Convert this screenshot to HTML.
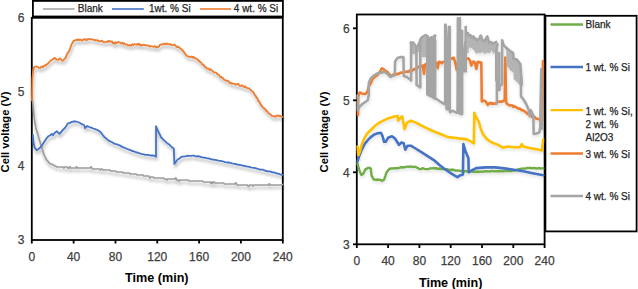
<!DOCTYPE html>
<html><head><meta charset="utf-8"><style>
html,body{margin:0;padding:0;background:#fff;width:638px;height:289px;overflow:hidden}
.w{position:relative;width:638px;height:289px;font-family:"Liberation Sans",sans-serif;color:#404040}
.w svg{position:absolute;left:0;top:0}
.t{position:absolute;white-space:nowrap;line-height:1}
.tk{font-size:12px;-webkit-text-stroke:0.25px #404040}
.lg{font-size:10px;color:#262626;-webkit-text-stroke:0.25px #262626}
.ttl{font-size:12.6px;font-weight:bold;color:#000}
.yt{font-size:11.2px;font-weight:bold;color:#000}
</style></head><body><div class="w">
<svg width="638" height="289" viewBox="0 0 638 289">
<defs><filter id="sh" x="-10%" y="-10%" width="120%" height="130%"><feDropShadow dx="0.8" dy="3" stdDeviation="1.8" flood-color="#000" flood-opacity="0.3"/></filter><filter id="sh2" x="-10%" y="-10%" width="120%" height="130%"><feDropShadow dx="0.5" dy="2" stdDeviation="1.5" flood-color="#000" flood-opacity="0.12"/></filter></defs>
<rect width="638" height="289" fill="#fff"/>
<rect x="31.8" y="17.8" width="251" height="222.2" fill="none" stroke="#000" stroke-width="1.8"/>
<rect x="356.8" y="14.5" width="187.8" height="229.8" fill="none" stroke="#000" stroke-width="1.8"/>
<g filter="url(#sh)">
<polyline points="32.5,100.0 33.5,110.0 34.5,120.0 35.9,128.0 36.9,131.3 37.9,134.6 38.8,137.9 39.8,141.2 40.8,144.4 41.8,147.7 42.8,151.0 43.8,154.3 44.7,156.1 45.5,157.8 46.4,159.6 47.2,160.5 48.0,161.4 48.9,162.4 49.7,163.3 50.5,164.0 51.4,164.0 52.2,164.0 53.0,165.0 53.9,165.0 54.8,166.0 55.8,166.0 56.7,167.0 57.6,167.0 58.5,167.0 59.4,167.0 60.3,167.0 61.2,167.0 62.0,167.0 62.9,167.0 63.8,168.0 64.7,167.0 65.5,167.0 66.4,167.0 67.2,167.0 68.1,168.3 69.0,168.0 69.8,166.8 70.7,168.0 71.5,168.0 72.4,168.0 73.2,168.0 74.1,168.0 74.9,168.0 75.8,168.0 76.6,166.8 77.5,168.0 78.3,168.0 79.2,168.0 80.0,168.0 80.8,168.0 81.7,168.0 82.5,168.0 83.4,168.0 84.2,168.0 85.1,168.0 85.9,168.0 86.8,168.0 87.6,168.0 88.5,168.0 89.3,168.0 90.2,168.0 91.0,166.8 91.9,168.0 92.8,169.0 93.6,169.0 94.4,169.0 95.3,169.0 96.2,169.0 97.0,169.0 97.9,169.0 98.7,169.0 99.6,169.0 100.4,170.0 101.3,169.0 102.2,169.0 103.0,170.0 103.9,170.0 104.7,170.0 105.6,170.0 106.4,170.0 107.3,170.0 108.1,170.0 109.0,170.0 109.8,170.0 110.7,171.0 111.5,171.0 112.4,171.0 113.2,171.0 114.1,171.0 114.9,171.0 115.8,171.0 116.6,172.0 117.5,172.0 118.3,172.0 119.2,172.0 120.0,172.0 120.9,172.0 121.8,172.0 122.6,172.0 123.5,173.0 124.3,173.0 125.2,173.0 126.0,173.0 126.8,173.0 127.7,173.0 128.6,173.0 129.4,173.0 130.2,174.0 131.1,174.0 131.9,174.0 132.8,174.0 133.6,174.0 134.5,174.0 135.3,174.0 136.2,174.0 137.0,175.0 137.9,175.0 138.8,175.0 139.6,175.0 140.4,175.0 141.3,175.0 142.2,175.0 143.0,175.0 143.8,176.0 144.7,176.0 145.6,176.0 146.4,176.0 147.3,176.0 148.1,176.0 149.0,176.0 149.8,178.0 150.7,177.0 151.6,177.0 152.4,177.0 153.3,177.0 154.1,178.0 155.0,178.0 155.8,178.0 156.7,178.0 157.5,178.0 158.4,178.0 159.2,178.0 160.0,178.0 160.9,178.0 161.7,178.0 162.6,178.0 163.4,178.0 164.3,179.0 165.1,179.0 165.9,179.0 166.8,180.0 167.6,179.0 168.5,179.0 169.3,179.0 170.1,179.0 170.9,179.0 171.7,179.0 172.6,179.0 173.4,179.0 174.2,179.0 175.0,179.0 175.8,177.8 176.6,180.0 177.4,180.0 178.2,180.0 179.1,181.3 179.9,180.0 180.7,180.0 181.5,180.0 182.3,180.0 183.2,180.0 184.0,180.0 184.9,180.0 185.7,180.0 186.5,180.0 187.4,180.0 188.2,180.0 189.1,181.0 189.9,181.0 190.8,181.0 191.6,181.0 192.4,181.0 193.3,181.0 194.1,181.0 195.0,181.0 195.8,181.0 196.6,181.0 197.5,181.0 198.3,181.0 199.2,181.0 200.0,181.0 200.8,181.0 201.7,181.0 202.5,181.0 203.4,182.0 204.2,182.0 205.1,182.0 205.9,182.0 206.7,182.0 207.6,182.0 208.4,182.0 209.3,182.0 210.1,182.0 210.9,183.3 211.8,182.0 212.6,183.3 213.5,182.0 214.3,182.0 215.1,183.0 216.0,183.0 216.8,183.0 217.7,183.0 218.5,183.0 219.4,183.0 220.2,183.0 221.0,183.0 221.9,183.0 222.7,183.0 223.6,183.0 224.4,184.0 225.2,184.0 226.0,184.0 226.8,184.0 227.7,184.0 228.5,184.0 229.3,184.0 230.1,184.0 230.9,184.0 231.7,184.0 232.5,184.0 233.3,184.0 234.2,184.0 235.0,184.0 235.8,182.8 236.6,184.0 237.4,185.0 238.2,185.0 239.1,185.0 239.9,185.0 240.7,185.0 241.5,185.0 242.3,185.0 243.2,185.0 244.0,185.0 244.8,185.0 245.6,185.0 246.4,185.0 247.3,185.0 248.1,186.3 248.9,186.3 249.7,185.0 250.5,185.0 251.4,185.0 252.2,185.0 253.0,186.0 253.8,185.0 254.6,185.0 255.4,185.0 256.3,185.0 257.1,185.0 257.9,185.0 258.7,185.0 259.5,185.0 260.3,185.0 261.1,185.0 261.9,185.0 262.8,185.0 263.6,185.0 264.4,185.0 265.2,185.0 266.0,185.0 266.8,185.0 267.7,185.0 268.5,185.0 269.3,183.8 270.1,185.0 271.0,185.0 271.8,185.0 272.6,185.0 273.4,185.0 274.3,185.0 275.1,185.0 275.9,185.0 276.7,185.0 277.6,185.0 278.4,185.0 279.2,185.0 280.0,185.0 280.9,185.0 281.7,185.0 282.5,184.5" fill="none" stroke="#9C9C9C" stroke-width="1.7" stroke-linejoin="round" stroke-linecap="round" />
<polyline points="32.9,134.6 33.3,141.2 34.6,147.7 36.6,150.1 38.5,149.1 41.2,146.4 43.8,142.5 46.4,138.5 48.4,136.2 50.4,135.2 51.7,133.9 53.0,135.2 54.3,133.3 56.9,131.3 59.6,133.9 62.2,130.6 64.8,128.0 66.3,126.0 67.8,123.4 69.8,122.9 71.9,121.9 74.0,121.4 76.0,121.5 78.0,122.0 80.0,123.0 82.0,124.2 84.1,125.0 85.1,128.1 87.2,126.0 89.2,127.0 91.3,127.7 93.3,128.5 95.3,129.1 97.3,130.0 99.4,131.1 101.5,133.2 103.0,135.2 104.5,137.1 106.2,138.5 107.9,139.9 109.6,141.2 111.7,142.0 113.7,143.3 115.2,143.8 116.8,144.2 118.3,144.9 119.8,145.3 121.3,146.4 122.9,147.1 124.5,147.7 126.0,148.4 127.5,149.0 129.1,149.6 130.6,150.1 132.1,151.0 133.6,151.2 135.1,151.9 136.7,152.3 138.2,152.9 139.7,153.2 141.2,153.9 142.8,154.1 144.3,154.5 145.8,154.8 147.4,154.8 148.9,155.0 150.4,155.5 151.9,155.4 153.5,155.5 155.6,156.5 156.0,156.7 156.0,126.1 158.1,131.2 159.6,134.0 161.1,137.3 163.1,139.4 165.2,141.4 167.2,143.2 169.3,144.5 170.8,146.2 172.3,147.6 173.8,148.6 174.4,163.9 175.9,161.7 177.4,159.8 179.4,158.5 181.5,156.7 183.1,156.6 184.6,156.3 186.1,156.2 187.7,155.7 189.2,155.9 190.8,155.9 192.3,155.6 193.8,155.7 195.3,156.2 196.9,156.5 198.4,156.2 199.9,156.7 201.5,157.2 203.2,157.5 204.8,157.7 206.5,158.1 208.1,158.4 209.6,158.7 211.2,159.3 212.7,159.3 214.2,159.8 215.7,159.8 217.2,160.4 218.8,160.7 220.3,160.8 221.8,161.1 223.4,161.5 224.9,162.1 226.4,162.3 228.0,162.5 229.5,162.7 231.1,163.1 232.6,163.5 234.1,163.9 235.7,163.9 237.2,164.6 238.7,164.6 240.2,165.2 241.8,165.2 243.3,165.9 244.8,165.9 246.3,166.4 247.9,166.6 249.4,166.9 250.9,167.3 252.4,167.6 253.9,167.8 255.5,168.1 257.0,168.6 258.5,169.0 260.1,169.6 261.6,169.7 263.1,169.7 264.7,170.5 266.2,170.8 267.8,171.3 269.3,171.4 270.9,171.7 272.6,172.4 274.2,172.4 275.9,173.2 277.6,173.5 279.2,173.9 280.9,174.7 282.5,174.9" fill="none" stroke="#4472C4" stroke-width="1.8" stroke-linejoin="round" stroke-linecap="round" />
<polyline points="32.0,100.0 32.4,79.0 33.1,71.0 34.1,67.3 35.2,66.5 36.2,66.5 37.0,66.9 37.8,66.9 38.6,67.6 39.4,67.9 40.2,68.0 41.0,66.9 41.8,66.4 42.7,67.3 43.5,66.0 44.3,66.0 45.1,65.0 45.9,65.6 46.8,64.1 47.6,64.1 48.4,62.9 49.2,62.1 50.0,61.6 50.9,60.1 51.7,60.2 52.5,59.2 53.5,59.1 54.5,57.8 55.5,58.5 56.6,59.5 57.6,59.8 58.6,59.7 59.7,58.4 60.7,58.8 61.7,60.2 62.7,60.8 63.7,59.9 64.8,58.5 65.8,57.8 66.8,54.5 67.8,52.7 68.8,51.7 69.8,49.6 70.8,46.5 71.9,43.5 72.9,42.3 73.9,40.4 74.9,40.7 76.0,40.1 77.0,39.4 77.8,40.2 78.6,39.4 79.4,40.1 80.2,39.6 81.0,39.8 81.8,40.5 82.6,40.4 83.5,39.2 84.3,39.2 85.1,39.8 85.9,39.2 86.7,40.2 87.6,39.2 88.4,39.4 89.2,39.0 90.0,38.8 90.8,39.3 91.7,39.3 92.5,39.4 93.3,39.8 94.1,40.0 94.9,40.0 95.8,40.6 96.6,40.3 97.4,40.0 98.2,40.9 99.0,41.0 99.9,41.4 100.7,41.1 101.5,41.0 102.3,40.6 103.1,41.9 104.0,42.2 104.8,42.3 105.6,41.8 106.4,41.8 107.2,41.8 108.0,40.9 108.8,41.7 109.6,41.0 110.4,41.5 111.2,41.5 112.1,41.5 112.9,43.2 113.7,43.0 114.6,43.7 115.4,42.2 116.3,43.2 117.2,42.5 118.1,42.0 118.9,42.2 119.8,42.4 120.7,43.1 121.6,43.6 122.5,42.6 123.3,43.8 124.2,43.2 125.1,44.5 126.0,44.5 126.8,44.3 127.6,45.3 128.4,45.6 129.2,45.0 130.0,45.1 130.8,45.8 131.6,44.7 132.5,44.2 133.3,45.0 134.1,44.1 134.9,44.3 135.7,44.5 136.6,44.8 137.4,44.0 138.2,44.5 139.0,43.8 139.8,45.2 140.7,44.4 141.5,45.5 142.3,45.4 143.1,44.7 143.9,44.9 144.8,45.0 145.6,45.3 146.4,45.1 147.3,45.5 148.1,45.6 149.0,45.9 149.9,46.6 150.8,46.1 151.6,46.2 152.5,46.5 153.4,46.9 154.4,46.2 155.3,46.4 156.2,47.6 157.2,47.0 158.1,47.0 159.1,46.2 160.1,44.6 161.1,44.5 162.0,44.3 162.8,44.5 163.7,43.5 164.6,44.3 165.5,44.3 166.3,43.3 167.2,43.9 168.1,44.2 169.0,44.1 169.9,44.6 170.7,44.2 171.6,44.9 172.5,45.1 173.4,44.9 174.3,44.5 175.1,45.0 176.0,46.3 176.9,47.2 177.8,46.4 178.6,47.1 179.5,47.6 180.3,48.5 181.1,48.9 182.0,49.8 182.8,50.5 183.6,51.6 184.6,52.9 185.6,54.7 186.6,55.7 187.7,56.3 188.7,56.4 189.7,57.1 190.7,56.7 191.7,56.7 192.5,57.5 193.3,56.6 194.2,57.8 195.0,58.4 195.8,58.4 196.6,58.8 197.4,59.3 198.3,60.9 199.1,60.7 199.9,61.8 200.8,62.1 201.6,63.4 202.4,64.7 203.3,64.6 204.2,65.8 205.0,66.9 206.0,67.2 207.1,68.6 208.1,68.6 208.9,68.9 209.7,70.0 210.5,69.3 211.3,69.9 212.1,70.6 213.0,71.4 213.9,72.4 214.8,72.3 215.6,72.5 216.5,72.9 217.4,74.2 218.3,74.7 219.1,74.9 219.9,76.6 220.7,77.3 221.5,76.9 222.3,78.1 223.2,78.2 224.0,79.6 224.9,79.8 225.7,80.6 226.6,80.4 227.4,81.1 228.2,81.0 229.0,81.8 229.9,83.1 230.7,82.7 231.5,83.6 232.3,83.5 233.2,83.7 234.1,83.8 234.9,83.9 235.8,84.8 236.6,84.2 237.5,83.8 238.4,83.8 239.3,85.5 240.1,85.6 241.0,86.0 241.9,85.3 242.8,85.6 243.7,86.7 244.5,87.1 245.4,86.3 246.3,87.5 247.2,88.1 248.0,88.2 248.9,88.3 249.8,89.2 250.6,89.7 251.4,90.6 252.3,91.3 253.2,91.9 254.0,93.4 254.8,94.9 255.7,95.8 256.6,97.9 257.4,98.1 258.2,100.8 259.1,101.5 260.0,103.0 260.8,104.6 261.6,105.7 262.5,106.9 263.4,107.6 264.2,108.7 265.0,108.7 265.8,110.7 266.7,110.6 267.5,111.7 268.3,112.8 269.1,113.7 269.9,114.0 270.7,114.5 271.5,115.9 272.3,115.8 273.3,116.3 274.4,116.2 275.4,116.8 276.4,115.7 277.4,115.4 278.4,116.1 279.5,115.6 280.5,115.8 281.5,116.8 282.5,116.8" fill="none" stroke="#ED7D31" stroke-width="1.8" stroke-linejoin="round" stroke-linecap="round" />
</g>
<rect x="32.9" y="0.9" width="250" height="15.6" fill="#fff" stroke="#000" stroke-width="1.8"/>
<line x1="31.8" y1="240" x2="31.8" y2="243.5" stroke="#000" stroke-width="1.8"/>
<line x1="73.6" y1="240" x2="73.6" y2="243.5" stroke="#000" stroke-width="1.8"/>
<line x1="115.5" y1="240" x2="115.5" y2="243.5" stroke="#000" stroke-width="1.8"/>
<line x1="157.3" y1="240" x2="157.3" y2="243.5" stroke="#000" stroke-width="1.8"/>
<line x1="199.1" y1="240" x2="199.1" y2="243.5" stroke="#000" stroke-width="1.8"/>
<line x1="240.9" y1="240" x2="240.9" y2="243.5" stroke="#000" stroke-width="1.8"/>
<line x1="282.8" y1="240" x2="282.8" y2="243.5" stroke="#000" stroke-width="1.8"/>
<line x1="43" y1="9" x2="74.6" y2="9" stroke="#A5A5A5" stroke-width="1.6"/>
<line x1="112" y1="9" x2="143.8" y2="9" stroke="#4472C4" stroke-width="1.6"/>
<line x1="199.9" y1="9" x2="231" y2="9" stroke="#ED7D31" stroke-width="1.6"/>
<g filter="url(#sh2)">
<polyline points="357.5,163.5 359.0,169.4 360.2,172.4 361.4,174.9 363.0,174.1 364.1,172.0 365.3,169.4 366.4,168.9 367.4,168.2 368.5,167.8 369.6,167.9 370.8,168.6 371.6,175.7 372.8,177.8 373.9,179.6 375.0,179.6 376.1,179.8 377.2,179.5 378.3,179.8 379.4,179.6 380.6,180.0 381.8,180.8 383.0,180.4 384.1,179.6 385.3,176.2 386.5,172.5 387.5,171.1 388.6,169.9 389.6,168.6 390.7,168.7 391.7,168.3 392.8,168.4 393.8,168.5 394.8,168.1 395.9,168.2 397.0,168.3 398.1,168.0 399.2,168.0 400.4,167.5 401.5,167.1 402.6,167.5 403.7,167.1 404.8,167.2 406.0,166.9 407.1,166.6 408.2,166.6 409.3,166.8 410.5,166.5 411.6,166.6 412.8,167.0 414.0,166.9 415.1,166.8 416.3,167.1 417.3,167.9 418.4,168.3 419.4,169.1 420.4,169.1 421.5,168.8 422.5,168.2 423.6,168.5 424.6,168.9 425.7,169.1 426.8,169.1 427.9,169.1 429.0,169.0 430.2,168.3 431.3,168.4 432.4,168.4 433.5,168.2 434.5,168.2 435.6,168.5 436.6,168.2 437.7,168.9 438.7,168.7 439.8,168.5 440.8,169.0 441.9,168.9 442.9,169.1 443.9,169.0 444.9,169.2 446.0,169.1 447.0,169.2 448.0,169.5 449.0,169.9 450.1,169.9 451.1,169.5 452.2,170.1 453.2,169.7 454.3,170.0 455.3,170.6 456.4,170.5 457.4,170.5 458.6,170.6 459.8,170.8 460.9,171.0 462.1,171.3 463.2,171.0 464.2,171.6 465.2,171.0 466.3,171.2 467.3,171.5 468.4,171.3 469.5,171.3 470.6,171.7 471.7,171.2 472.8,171.8 473.9,171.7 474.9,171.6 476.0,171.8 477.1,171.5 478.2,171.8 479.3,171.6 480.3,171.8 481.4,171.6 482.4,171.5 483.5,171.7 484.5,171.4 485.6,171.2 486.6,171.6 487.7,171.3 488.7,171.4 489.8,171.6 490.8,171.2 491.9,171.0 492.9,171.1 494.0,171.4 495.0,171.3 496.0,171.2 497.1,171.1 498.1,171.2 499.2,171.5 500.2,171.0 501.3,171.1 502.3,171.4 503.4,171.2 504.4,171.0 505.5,171.1 506.5,171.1 507.6,170.8 508.6,171.0 509.7,170.9 510.7,171.0 511.8,171.0 512.8,170.4 513.9,170.5 514.9,170.5 516.0,170.2 517.0,169.7 518.0,169.4 519.1,169.3 520.1,168.9 521.1,168.8 522.2,168.6 523.2,168.4 524.2,168.6 525.3,168.6 526.3,168.2 527.4,167.9 528.4,168.2 529.5,167.9 530.5,167.8 531.6,168.3 532.6,168.1 533.6,167.9 534.6,168.3 535.6,168.1 536.6,168.5 537.6,168.5 538.6,168.0 539.6,168.1 540.6,168.6 541.6,168.4 542.6,168.3 543.6,168.4" fill="none" stroke="#70AD47" stroke-width="2.4" stroke-linejoin="round" stroke-linecap="round" />
<polyline points="357.5,161.3 359.0,156.6 361.4,150.4 364.5,144.1 367.7,140.2 370.8,137.1 373.9,134.7 377.1,133.4 381.0,132.8 382.6,136.3 384.1,141.8 385.7,141.8 388.0,137.8 392.0,136.3 395.1,138.6 397.5,142.5 399.0,144.9 401.4,142.5 403.7,143.3 405.3,149.6 407.6,145.7 410.8,145.7 414.7,148.0 421.0,151.9 427.2,155.9 433.5,159.8 439.8,165.3 446.0,170.0 452.7,174.4 457.4,177.2 460.5,175.2 462.9,174.4 463.4,144.1 465.2,150.4 468.4,158.2 468.7,172.3 471.5,170.5 476.2,168.1 485.6,167.4 495.0,167.4 504.4,168.4 513.8,169.7 523.2,171.3 532.6,173.2 543.6,175.2" fill="none" stroke="#4472C4" stroke-width="2.6" stroke-linejoin="round" stroke-linecap="round" />
<polyline points="357.6,146.5 358.3,155.1 359.8,151.9 361.4,145.7 363.8,139.4 366.9,133.9 370.8,130.0 375.5,125.3 380.2,122.1 384.9,119.8 389.6,117.9 394.3,116.6 397.5,115.9 398.2,120.6 399.8,118.2 402.2,116.3 404.5,129.0 406.9,122.9 410.8,120.6 414.7,122.1 419.4,124.5 424.1,126.8 430.4,130.0 436.6,132.5 442.9,135.0 448.0,137.1 454.3,137.8 460.5,138.6 466.8,139.4 471.5,141.8 473.9,143.3 474.3,112.7 475.4,115.9 478.6,121.3 480.9,129.2 483.3,134.7 487.2,139.4 491.9,142.5 498.2,144.9 502.9,147.7 507.6,146.5 513.8,147.2 520.1,147.2 521.7,144.1 523.2,146.5 529.5,148.0 535.8,149.1 542.0,150.4 543.3,139.4" fill="none" stroke="#FFC000" stroke-width="2.6" stroke-linejoin="round" stroke-linecap="round" />
<polyline points="358.0,115.1 358.3,96.3 359.8,92.4 360.9,93.1 361.9,93.4 363.0,93.7 364.0,93.8 365.1,94.0 366.2,93.4 367.7,90.8 368.8,86.5 370.0,84.5 371.1,82.5 372.3,79.6 373.5,77.8 374.6,77.2 375.8,76.1 376.9,75.6 378.1,74.0 379.2,72.7 380.5,71.1 381.8,68.4 383.1,68.7 384.4,70.1 385.6,70.9 386.7,71.5 387.9,72.7 389.0,73.9 390.2,75.1 391.3,76.1 392.5,74.9 393.6,74.6 394.8,74.4 396.0,73.8 397.1,74.4 398.3,73.5 399.4,73.6 400.6,72.5 401.7,72.7 402.9,72.8 404.0,71.6 405.2,71.8 406.3,72.0 407.5,71.3 408.6,71.8 410.0,70.4 411.3,70.4 412.3,70.7 413.2,69.5 414.2,69.7 415.2,68.6 416.3,69.0 417.3,68.1 418.4,66.9 419.5,66.3 420.5,66.8 421.6,65.9 422.7,65.5 424.1,74.0 424.8,64.8 425.9,64.3 427.0,63.3 427.9,62.7 428.9,63.5 429.8,62.9 430.7,63.0 431.7,62.7 432.6,61.9 433.8,61.9 435.0,62.2 436.2,62.6 437.6,68.3 439.0,61.9 439.9,61.9 440.9,62.3 441.8,63.3 442.9,62.0 444.0,61.9 445.0,61.1 446.0,61.0 447.0,59.7 448.1,60.1 449.1,59.2 450.1,58.6 451.1,58.4 452.0,58.6 453.0,57.9 453.9,57.7 454.9,61.7 456.0,66.2 456.7,70.0 458.0,62.0 459.1,61.6 460.2,61.5 461.3,60.3 462.4,60.5 463.4,60.6 464.4,58.8 465.4,59.3 466.4,58.4 467.4,58.9 468.5,58.4 469.9,60.5 471.3,65.5 472.8,61.9 473.9,61.6 474.9,62.6 476.3,69.0 477.7,61.9 478.6,62.5 479.5,62.1 480.4,62.5 481.3,62.6 481.8,101.5 483.4,100.8 484.3,100.6 485.3,101.1 486.2,102.2 487.7,105.0 488.8,103.5 489.8,102.9 490.9,103.7 491.9,102.8 492.9,103.8 494.0,103.6 495.0,103.7 495.9,103.3 496.9,102.2 497.9,101.8 499.0,101.6 500.1,101.7 501.1,101.5 502.3,101.7 503.5,100.5 504.7,100.8 505.3,57.5 506.1,101.8 506.8,103.6 507.9,104.4 509.0,105.0 510.0,105.5 511.1,105.5 512.1,105.2 513.2,106.9 514.2,106.1 515.3,107.0 516.4,107.2 517.5,108.0 518.5,108.8 519.6,108.6 520.6,108.9 521.6,110.2 522.6,110.2 523.6,110.7 524.5,111.3 525.5,112.1 526.5,112.7 527.4,114.0 528.3,113.8 529.2,114.3 530.1,115.5 531.0,115.6 532.0,116.8 533.1,116.1 534.2,116.5 535.2,117.6 536.4,118.8 537.6,118.7 538.8,119.2 539.7,119.5 540.6,119.7 541.6,120.7 542.5,121.0 543.0,61.0" fill="none" stroke="#ED7D31" stroke-width="2.6" stroke-linejoin="round" stroke-linecap="round" />
<polygon points="410.0,42.4 413.2,42.4 415.8,46.5 417.7,46.2 419.9,41.2 421.3,37.7 423.4,36.3 425.5,34.9 427.6,36.3 427.6,57.0 421.5,57.0 421.5,52.0 416.8,52.0 416.8,54.0 412.0,54.0 410.0,56.0" fill="#B4B4B4" stroke="none"/>
<polygon points="429.0,38.2 429.3,38.4 430.5,38.4 431.2,37.0 431.9,40.5 432.2,40.5 432.2,58.0 429.0,58.0" fill="#B4B4B4" stroke="none"/>
<polygon points="433.4,36.0 434.0,35.6 435.8,35.6 435.8,60.0 433.4,60.0" fill="#B4B4B4" stroke="none"/>
<polygon points="426.6,40.0 435.8,40.0 435.8,98.6 432.6,97.2 428.4,95.1 426.6,94.0" fill="#A5A5A5" stroke="#A5A5A5" stroke-width="1.2" stroke-linejoin="round"/>
<polygon points="444.5,24.2 446.3,24.2 446.8,41.0 447.8,41.0 448.2,26.3 450.4,26.3 450.4,112.8 449.6,112.8 448.9,110.0 446.1,110.0 445.4,104.3 444.5,104.0" fill="#A5A5A5" stroke="#A5A5A5" stroke-width="1.2" stroke-linejoin="round"/>
<polygon points="457.2,17.8 460.6,17.5 460.6,114.8 456.9,112.8" fill="#A5A5A5" stroke="#A5A5A5" stroke-width="1.2" stroke-linejoin="round"/>
<polygon points="461.6,29.9 462.8,30.6 462.8,114.5 461.6,114.8" fill="#A5A5A5" stroke="#A5A5A5" stroke-width="1.2" stroke-linejoin="round"/>
<polygon points="465.0,26.3 466.4,26.3 466.4,72.0 463.5,72.0 463.5,50.0 465.0,40.0" fill="#A5A5A5" stroke="#A5A5A5" stroke-width="1.2" stroke-linejoin="round"/>
<polygon points="466.4,33.4 467.9,33.0 469.0,35.5 470.6,35.3 471.5,37.5 473.4,36.3 474.3,38.8 475.1,38.3 477.3,40.2 479.0,39.0 480.6,35.5 481.5,37.0 482.3,40.2 484.5,41.2 486.0,38.5 487.3,36.3 488.2,39.5 489.0,42.5 491.0,42.0 492.8,43.6 494.5,42.8 496.2,41.8 497.3,44.5 498.2,44.5 498.2,80.4 496.2,80.4 495.5,50.0 494.0,54.5 491.5,50.5 489.5,53.5 487.0,52.5 485.0,54.0 482.5,52.0 480.0,53.5 478.0,52.5 476.0,54.0 474.5,51.0 472.8,49.0 470.6,47.6 468.8,48.0 468.5,53.0 466.8,53.0" fill="#B4B4B4" stroke="none"/>
<polygon points="506.3,47.8 508.0,49.2 510.2,51.0 513.1,52.9 513.6,58.8 516.9,59.5 518.8,62.0 520.3,64.0 521.6,80.0 521.6,85.0 519.5,85.0 517.0,82.0 513.6,79.0 513.6,73.0 510.0,70.0 506.3,65.0" fill="#B4B4B4" stroke="none"/>
<polyline points="466.4,33.4 467.9,33.0 469.0,35.5 470.6,35.3 471.5,37.5 473.4,36.3 474.3,38.8 475.1,38.3 477.3,40.2 479.0,39.0 480.6,35.5 481.5,37.0 482.3,40.2 484.5,41.2 486.0,38.5 487.3,36.3 488.2,39.5 489.0,42.5 491.0,42.0 492.8,43.6 494.5,42.8 496.2,41.8" fill="none" stroke="#A5A5A5" stroke-width="2.6" stroke-linejoin="round" stroke-linecap="round" />
<polyline points="506.3,47.8 508.0,49.2 510.2,51.0 513.1,52.9 513.6,58.8 516.9,59.5 518.8,62.0 520.3,64.0 521.6,80.0 521.6,85.0" fill="none" stroke="#A5A5A5" stroke-width="2.6" stroke-linejoin="round" stroke-linecap="round" />
<polyline points="496.2,80.4 496.2,50.0 497.6,44.0" fill="none" stroke="#A5A5A5" stroke-width="2.4" stroke-linejoin="round" stroke-linecap="round" />
<polyline points="410.6,42.4 413.2,42.4 415.8,46.5 417.7,46.2 419.9,41.2 421.3,37.7 423.4,36.3 425.5,34.9 427.6,36.3 428.4,39.8 429.1,38.4 430.5,38.4 431.2,37.0 431.9,40.5 434.0,35.6 435.5,35.6" fill="none" stroke="#A5A5A5" stroke-width="2.4" stroke-linejoin="round" stroke-linecap="round" />
<polyline points="411.1,43.0 411.1,80.4" fill="none" stroke="#A5A5A5" stroke-width="2.6" stroke-linejoin="round" stroke-linecap="round" />
<polyline points="416.4,47.0 416.6,85.0 418.5,86.2 420.3,87.5 420.3,40.0" fill="none" stroke="#A5A5A5" stroke-width="2.6" stroke-linejoin="round" stroke-linecap="round" />
<polyline points="427.6,36.5 427.6,94.5 430.7,96.0" fill="none" stroke="#A5A5A5" stroke-width="2.6" stroke-linejoin="round" stroke-linecap="round" />
<polyline points="430.7,38.5 430.7,96.0 434.6,98.3" fill="none" stroke="#A5A5A5" stroke-width="2.6" stroke-linejoin="round" stroke-linecap="round" />
<polyline points="434.6,36.0 434.6,98.3 437.0,99.3 441.1,102.2 444.5,104.0" fill="none" stroke="#A5A5A5" stroke-width="2.6" stroke-linejoin="round" stroke-linecap="round" />
<polyline points="450.4,112.0 452.5,110.7 456.9,112.8" fill="none" stroke="#A5A5A5" stroke-width="2.6" stroke-linejoin="round" stroke-linecap="round" />
<polyline points="496.9,80.0 496.9,103.6" fill="none" stroke="#A5A5A5" stroke-width="2.6" stroke-linejoin="round" stroke-linecap="round" />
<polyline points="499.2,53.0 499.2,90.0" fill="none" stroke="#A5A5A5" stroke-width="2.6" stroke-linejoin="round" stroke-linecap="round" />
<polyline points="502.1,40.5 502.1,84.0 500.0,86.0 499.2,90.0" fill="none" stroke="#A5A5A5" stroke-width="2.6" stroke-linejoin="round" stroke-linecap="round" />
<polyline points="502.1,40.5 503.6,45.2 506.4,48.1" fill="none" stroke="#A5A5A5" stroke-width="2.6" stroke-linejoin="round" stroke-linecap="round" />
<polyline points="520.9,80.0 521.0,96.4 523.6,99.5 526.4,104.5 528.6,109.8 529.8,116.4 530.7,110.0 533.3,115.5 533.7,134.0 536.4,133.4 539.3,132.4 540.2,127.0 541.1,80.0 541.4,69.0 542.2,128.8" fill="none" stroke="#A5A5A5" stroke-width="2.6" stroke-linejoin="round" stroke-linecap="round" />
<polyline points="357.6,95.5 357.8,110.4 359.0,107.2 361.4,104.9 364.5,102.5 367.7,100.2 368.8,95.0 368.8,83.1 370.6,78.7 374.0,75.3 377.5,73.5 381.0,72.7 384.4,71.8 387.0,73.5 390.5,77.0 392.2,76.1 394.8,75.3 395.1,61.4 397.4,58.0 400.8,57.1 403.4,57.1 403.8,76.1 406.9,77.0 410.4,79.8" fill="none" stroke="#A5A5A5" stroke-width="2.6" stroke-linejoin="round" stroke-linecap="round" />
</g>
<line x1="356.8" y1="244.3" x2="356.8" y2="248" stroke="#000" stroke-width="1.8"/>
<line x1="388.1" y1="244.3" x2="388.1" y2="248" stroke="#000" stroke-width="1.8"/>
<line x1="419.4" y1="244.3" x2="419.4" y2="248" stroke="#000" stroke-width="1.8"/>
<line x1="450.7" y1="244.3" x2="450.7" y2="248" stroke="#000" stroke-width="1.8"/>
<line x1="482.0" y1="244.3" x2="482.0" y2="248" stroke="#000" stroke-width="1.8"/>
<line x1="513.3" y1="244.3" x2="513.3" y2="248" stroke="#000" stroke-width="1.8"/>
<line x1="544.6" y1="244.3" x2="544.6" y2="248" stroke="#000" stroke-width="1.8"/>
<line x1="353" y1="244.3" x2="356.8" y2="244.3" stroke="#000" stroke-width="1.8"/>
<line x1="353" y1="172.3" x2="356.8" y2="172.3" stroke="#000" stroke-width="1.8"/>
<line x1="353" y1="100.3" x2="356.8" y2="100.3" stroke="#000" stroke-width="1.8"/>
<line x1="353" y1="28.3" x2="356.8" y2="28.3" stroke="#000" stroke-width="1.8"/>
<rect x="545.4" y="15.8" width="91.2" height="215.6" fill="#fff" stroke="#000" stroke-width="1.8"/>
<line x1="550.5" y1="24.5" x2="583" y2="24.5" stroke="#70AD47" stroke-width="2.4"/>
<line x1="550.5" y1="67" x2="583" y2="67" stroke="#4472C4" stroke-width="2.4"/>
<line x1="550.5" y1="110.1" x2="583" y2="110.1" stroke="#FFC000" stroke-width="2.4"/>
<line x1="550.5" y1="153.5" x2="583" y2="153.5" stroke="#ED7D31" stroke-width="2.4"/>
<line x1="550.5" y1="196" x2="583" y2="196" stroke="#A5A5A5" stroke-width="2.4"/>
</svg>
<div class="t tk" style="left:24.5px;top:12.4px;transform:translateX(-100%);">6</div>
<div class="t tk" style="left:24.5px;top:86.4px;transform:translateX(-100%);">5</div>
<div class="t tk" style="left:24.5px;top:160.4px;transform:translateX(-100%);">4</div>
<div class="t tk" style="left:24.5px;top:234.4px;transform:translateX(-100%);">3</div>
<div class="t tk" style="left:31.8px;top:250.5px;transform:translateX(-50%);">0</div>
<div class="t tk" style="left:73.63px;top:250.5px;transform:translateX(-50%);">40</div>
<div class="t tk" style="left:115.46px;top:250.5px;transform:translateX(-50%);">80</div>
<div class="t tk" style="left:157.29px;top:250.5px;transform:translateX(-50%);">120</div>
<div class="t tk" style="left:199.12px;top:250.5px;transform:translateX(-50%);">160</div>
<div class="t tk" style="left:240.95px;top:250.5px;transform:translateX(-50%);">200</div>
<div class="t tk" style="left:282.78px;top:250.5px;transform:translateX(-50%);">240</div>
<div class="t tk" style="left:349.6px;top:239.10000000000002px;transform:translateX(-100%);">3</div>
<div class="t tk" style="left:349.6px;top:167.10000000000002px;transform:translateX(-100%);">4</div>
<div class="t tk" style="left:349.6px;top:95.10000000000001px;transform:translateX(-100%);">5</div>
<div class="t tk" style="left:349.6px;top:23.100000000000012px;transform:translateX(-100%);">6</div>
<div class="t tk" style="left:356.8px;top:254.8px;transform:translateX(-50%);">0</div>
<div class="t tk" style="left:388.1px;top:254.8px;transform:translateX(-50%);">40</div>
<div class="t tk" style="left:419.40000000000003px;top:254.8px;transform:translateX(-50%);">80</div>
<div class="t tk" style="left:450.70000000000005px;top:254.8px;transform:translateX(-50%);">120</div>
<div class="t tk" style="left:482.0px;top:254.8px;transform:translateX(-50%);">160</div>
<div class="t tk" style="left:513.3px;top:254.8px;transform:translateX(-50%);">200</div>
<div class="t tk" style="left:544.6px;top:254.8px;transform:translateX(-50%);">240</div>
<div class="t ttl" style="left:156.8px;top:272px;transform:translateX(-50%);">Time (min)</div>
<div class="t ttl" style="left:450.7px;top:276.5px;transform:translateX(-50%);">Time (min)</div>
<div class="t yt" style="left:5.8px;top:132.2px;transform:translate(-50%,-50%) rotate(-90deg);">Cell voltage (V)</div>
<div class="t yt" style="left:324.8px;top:132.1px;transform:translate(-50%,-50%) rotate(-90deg);">Cell voltage (V)</div>
<div class="t lg" style="left:77.8px;top:3.5px;">Blank</div>
<div class="t lg" style="left:149px;top:3.5px;">1wt. % Si</div>
<div class="t lg" style="left:233.8px;top:3.5px;">4 wt. % Si</div>
<div class="t lg" style="left:585.5px;top:20px;">Blank</div>
<div class="t lg" style="left:585.5px;top:63.1px;">1 wt. % Si</div>
<div class="t lg" style="left:585.5px;top:106.7px;">1 wt. % Si,</div>
<div class="t lg" style="left:585.5px;top:120px;">2 wt. %</div>
<div class="t lg" style="left:585.5px;top:133.2px;">Al2O3</div>
<div class="t lg" style="left:585.5px;top:149.8px;">3 wt. % Si</div>
<div class="t lg" style="left:585.5px;top:192.2px;">4 wt. % Si</div>
</div></body></html>
